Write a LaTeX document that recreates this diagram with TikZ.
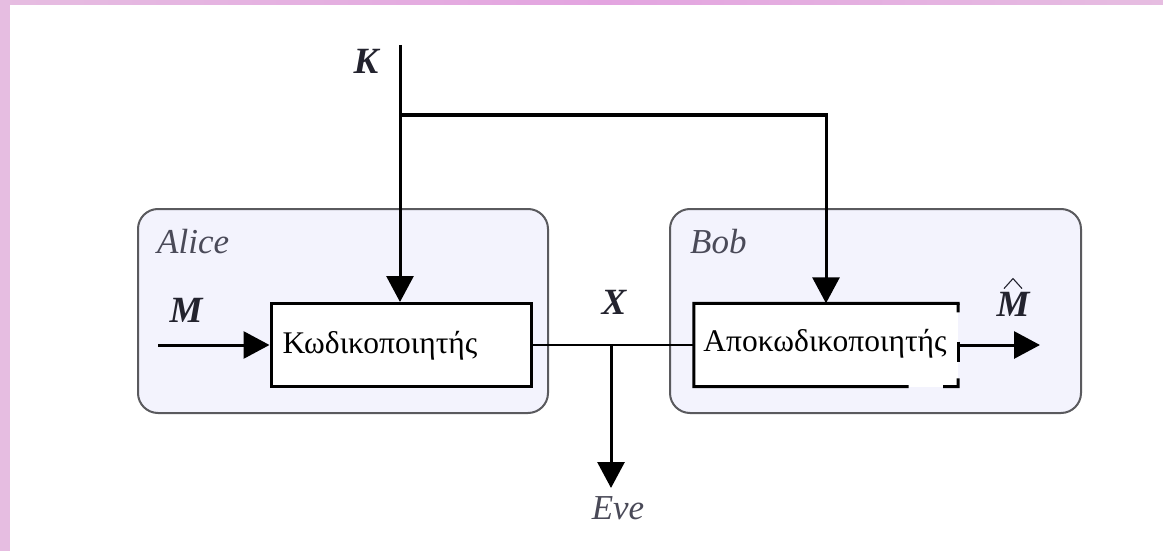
\documentclass[tikz,border=0pt]{standalone}
\usepackage{fontspec}
\setmainfont{Liberation Serif}
\usetikzlibrary{arrows.meta,calc}

\definecolor{bandpink}{HTML}{E6BDE1}
\definecolor{bandmid}{HTML}{E3A4E0}
\definecolor{partyfill}{HTML}{F3F3FD}
\definecolor{partyedge}{HTML}{5A5A5E}
\definecolor{keyink}{HTML}{23232E}
\definecolor{nameink}{HTML}{4A4A58}

\tikzset{
  party/.style={draw=partyedge, line width=2pt, fill=partyfill, rounded corners=20pt},
  codebox/.style={fill=white, inner sep=0pt},
  wire/.style={draw=black, line width=3pt},
  thinwire/.style={draw=black, line width=1.8pt},
  arrowed/.style={-{Triangle[length=26pt,width=27pt]}},
  varlabel/.style={inner sep=0pt, anchor=base, text=keyink,
    font=\fontsize{37}{44}\selectfont\bfseries\itshape},
  namelabel/.style={inner sep=0pt, anchor=base west, text=nameink,
    font=\fontsize{35}{42}\selectfont\itshape},
  codelabel/.style={inner sep=0pt, anchor=base, text=black,
    font=\fontsize{31.5}{38}\selectfont},
}

\begin{document}
\begin{tikzpicture}[x=1pt,y=-1pt]
\useasboundingbox (0,0) rectangle (1163,551);
\fill[white] (0,0) rectangle (1163,551);

% pink frame along the top and left edges
\shade[left color=bandpink, right color=bandmid] (0,0) rectangle (600,5);
\shade[left color=bandmid, right color=bandpink] (600,0) rectangle (1163,5);
\fill[bandpink] (0,0) rectangle (10,551);

% the two parties
\node[party, minimum width=410pt, minimum height=204pt] (alice) at (343,311) {};
\node[party, minimum width=411pt, minimum height=204pt] (bob) at (875.5,311) {};
\node[namelabel] (alicename) at (157,253) {Alice};
\node[namelabel] (bobname) at (690,253) {Bob};

% encoder (solid frame)
\node[codebox, draw=black, line width=3pt, minimum width=260pt, minimum height=83pt] (enc) at (401,345) {};
\node[codelabel] (enctext) at (380,353) {Κωδικοποιητής};

% decoder (broken frame)
\node[codebox, minimum width=264pt, minimum height=83pt] (dec) at (826,345) {};
\node[codelabel] (dectext) at (825,351) {Αποκωδικοποιητής};
\draw[wire, line cap=rect] (dec.north east) -- (dec.north west) -- (dec.south west)
  -- ($(dec.south west)!0.807!(dec.south east)$);
\draw[wire] ($(dec.south west)!0.943!(dec.south east)$) -- (dec.south east)
  -- ($(dec.south east)!0.10!(dec.north east)$);
\draw[wire] ($(dec.north east)!0.46!(dec.south east)$) -- ($(dec.north east)!0.70!(dec.south east)$);
\draw[wire] (dec.north east) -- ($(dec.north east)!0.11!(dec.south east)$);

% key distribution
\coordinate (ktop) at (400,45);
\coordinate (ksplit) at (400,115);
\node[varlabel] (klabel) at (366,74) {K};
\draw[wire, arrowed] (ktop) -- (ktop |- enc.north);
\draw[wire, arrowed] (ksplit) -| (dec.north);

% message in
\coordinate (min) at (158,345);
\node[varlabel] (mlabel) at (186,322) {M};
\draw[wire, arrowed] (min) -- (min -| enc.west);

% channel and eavesdropper
\draw[thinwire] (enc.east) -- (dec.west);
\coordinate (tap) at (611,345);
\coordinate (evetip) at (611,488);
\node[varlabel] (xlabel) at (614,314) {X};
\draw[wire, arrowed] (tap) -- (evetip);
\node[namelabel, anchor=base] (eve) at (618,519) {Eve};

% estimate out
\coordinate (mout) at (1040,345);
\draw[wire, arrowed] (dec.east) -- (mout);
\node[varlabel] (mhat) at (1013,316) {M};
\draw[draw=keyink, line width=1.1pt] ($(mhat.north)+(-9,-3)$) -- ($(mhat.north)+(0,-13)$) -- ($(mhat.north)+(9,-3)$);
\end{tikzpicture}
\end{document}
